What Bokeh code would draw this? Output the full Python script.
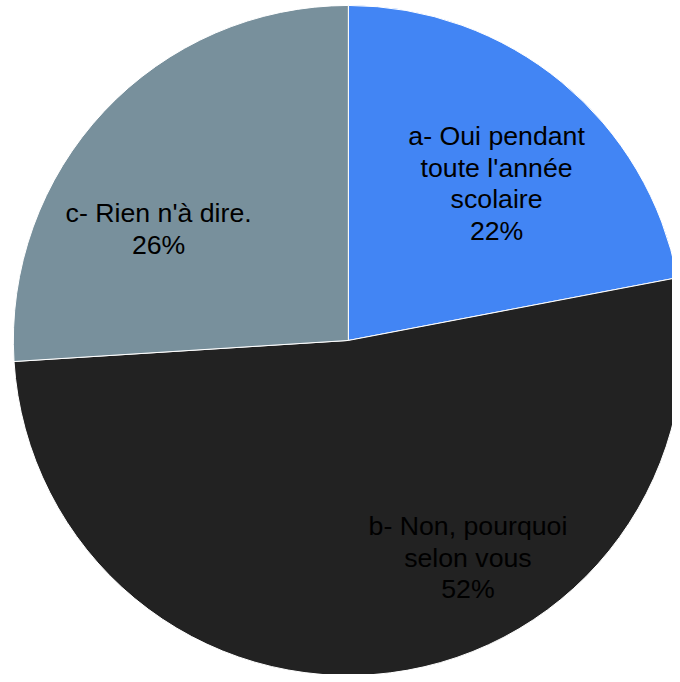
import numpy as np
from bokeh.plotting import figure
from bokeh.models import Range1d, ColumnDataSource
from bokeh.core.properties import value
from bokeh.embed import file_html
from bokeh.resources import INLINE

# Data
categories = ["a- Oui pendant\ntoute l'année\nscolaire", "b- Non, pourquoi\nselon vous", "c- Rien n'à dire."]
percents = [22, 52, 26]
colors = ["#4285F4", "#222222", "#78909C"]

# Layout (reference-image coordinates, y measured downward from top)
W, H = 680, 682
label_x = [502, 473, 160]
label_y_top = [185, 564, 231]

cx, cy_top, r = 352, 344, 339

fracs = np.array(percents, dtype=float) / sum(percents)
ends_cum = np.cumsum(fracs)
starts_cum = ends_cum - fracs
start_angle = np.pi / 2 - 2 * np.pi * starts_cum
end_angle = np.pi / 2 - 2 * np.pi * ends_cum

src = ColumnDataSource(dict(
    start=start_angle, end=end_angle, color=colors,
    x=[cx] * 3, y=[H - cy_top] * 3,
))

labels = [f"{c}\n{p}%" for c, p in zip(categories, percents)]
lsrc = ColumnDataSource(dict(x=label_x, y=[H - v for v in label_y_top], text=labels))

p = figure(width=672, height=674, output_backend="svg", toolbar_location=None,
           x_range=Range1d(0, W), y_range=Range1d(0, H), min_border=0)
p.axis.visible = False
p.grid.visible = False
p.outline_line_color = None
p.background_fill_color = "white"
p.border_fill_color = "white"

p.wedge(x="x", y="y", radius=r, start_angle="start", end_angle="end",
        direction="clock", fill_color="color", line_color="white", line_width=1,
        source=src)

p.text(x="x", y="y", text="text", source=lsrc, text_align="center",
       text_baseline="middle", text_font=value("Liberation Sans"),
       text_font_size="26.7px", text_color="#000000", text_line_height=1.05)

open("out.html", "w").write(file_html(p, INLINE))
